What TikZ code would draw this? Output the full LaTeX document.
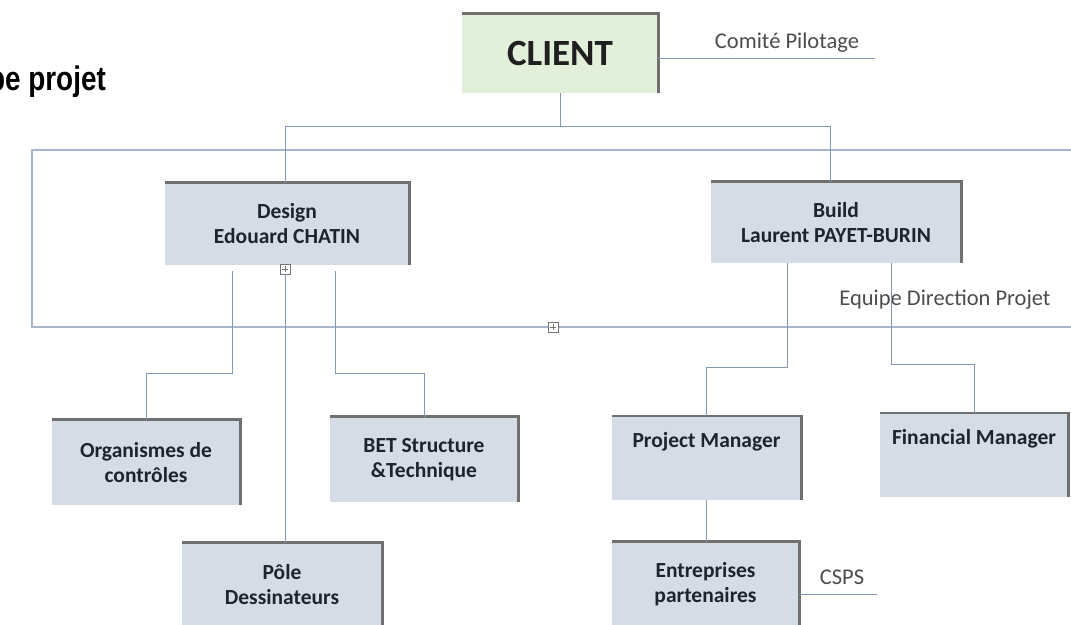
\documentclass[tikz,border=0pt]{standalone}
\usepackage{fontspec}
\setmainfont{Carlito}
\newfontfamily\titlefont[FakeStretch=0.82]{Liberation Sans}
\usepackage{tikz}
\definecolor{linkblue}{HTML}{8497B0}
\definecolor{framegray}{HTML}{A7B4CC}
\definecolor{boxfill}{HTML}{D6DCE5}
\definecolor{clientfill}{HTML}{E2EFDA}
\definecolor{edgegray}{HTML}{707070}
\definecolor{textdark}{HTML}{1C2430}
\tikzstyle{orgbox} = [fill=boxfill, rectangle, inner sep=0pt, align=center,
    text=textdark, font=\fontsize{21.5}{25}\selectfont\bfseries]
\tikzstyle{clientbox} = [fill=clientfill, rectangle, minimum width=196pt,
    minimum height=79pt, text=black!88, font=\fontsize{37}{42}\selectfont\bfseries]
\tikzstyle{boxedge} = [draw=edgegray, line width=2.8pt]
\tikzstyle{link} = [draw=linkblue, line width=1pt]
\tikzstyle{frameline} = [draw=framegray, line width=1.8pt]
\tikzstyle{sidelabel} = [text=black!70, font=\fontsize{22.5}{26}\selectfont]
\tikzstyle{expander} = [draw=black!55, fill=white, rectangle, minimum size=10pt,
    inner sep=0pt, path picture={\draw[black!55, line width=0.6pt]
    ([yshift=-2pt]path picture bounding box.north) -- ([yshift=2pt]path picture bounding box.south)
    ([xshift=2pt]path picture bounding box.west) -- ([xshift=-2pt]path picture bounding box.east);}]

\begin{document}
\begin{tikzpicture}[x=1pt, y=-1pt]
                \path[use as bounding box] (0,0) rectangle (1071,624);
                \clip (0,0) rectangle (1071,624);
                % title, cut at the left edge
                \node[font=\titlefont\fontsize{34}{40}\selectfont\bfseries, anchor=base east, inner sep=0pt] (title) at (106,90) {Equipe projet};
                % frame of the project team
                \draw[frameline] (32,150) rectangle (1090,327);
                % boxes
                \node [clientbox] (client) at (560,53.5) {CLIENT};
                \node [orgbox, minimum width=244pt, minimum height=82pt] (design) at (287,224) {Design\\Edouard CHATIN};
                \node [orgbox, minimum width=250pt, minimum height=81pt] (build) at (836,222.5) {Build\\Laurent PAYET-BURIN};
                \node [orgbox, minimum width=188pt, minimum height=85pt] (org) at (146,462.5) {Organismes de\\contrôles};
                \node [orgbox, minimum width=188pt, minimum height=85pt] (bet) at (424,459.5) {BET Structure\\\&Technique};
                \node [orgbox, minimum width=200pt, minimum height=84pt] (pole) at (282,585) {Pôle\\Dessinateurs};
                \node [orgbox, minimum width=189pt, text height=31pt, text depth=53pt, anchor=north] (pm) at (706.5,416) {Project Manager};
                \node [orgbox, minimum width=188pt, text height=31pt, text depth=53pt, anchor=north] (fm) at (974,413) {Financial Manager};
                \node [orgbox, minimum width=187pt, minimum height=84pt] (ent) at (705.5,584) {Entreprises\\partenaires};
                \foreach \n in {client,design,build,org,bet,pole,pm,fm,ent}
                    \draw[boxedge] (\n.north west) -- (\n.north east) -- (\n.south east);
                % side labels
                \node[sidelabel] (comite) at (787,43) {Comité Pilotage};
                \node[sidelabel] (equipe) at (945,300) {Equipe Direction Projet};
                \node[sidelabel] (csps) at (842,577) {CSPS};
                \coordinate (comiteend) at (875,58);
                \coordinate (cspsend) at (877,594);
                % connectors
                \draw[link] (client.south) -- ++(0,33) coordinate (split);
                \draw[link] (split) -| ([xshift=-2pt]design.north);
                \draw[link] (split) -| ([xshift=-6pt]build.north);
                \draw[link] ([yshift=-4.5pt]client.east) -- (comiteend);
                \node[expander] (dexp) at (285,269) {};
                \draw[link] (dexp) -- (dexp |- pole.north);
                \draw[link] ([xshift=-55pt,yshift=-6pt]design.south) -- ++(0,102) -| (org.north);
                \draw[link] ([xshift=48pt,yshift=-6pt]design.south) -- ++(0,102) -| (bet.north);
                \draw[link] ([xshift=-49pt]build.south) -- ++(0,104) -| (pm.north);
                \draw[link] ([xshift=55pt]build.south) -- ++(0,101) -| (fm.north);
                \draw[link] (pm.south) -- (pm.south |- ent.north);
                \draw[link] ([yshift=-10pt]ent.east) -- (cspsend);
                \node[expander] (fexp) at (553,327) {};
            \end{tikzpicture}
\end{document}
